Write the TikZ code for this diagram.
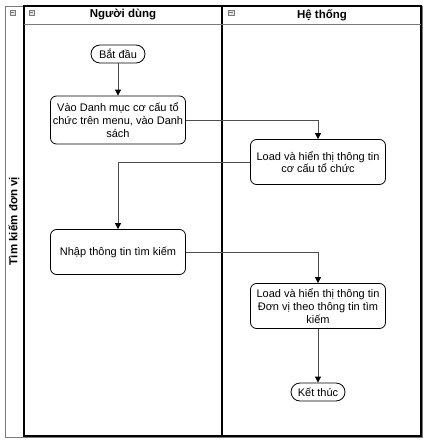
\documentclass[tikz,border=0pt]{standalone}
\usepackage{fontspec}
\setmainfont{Liberation Sans}
\usetikzlibrary{arrows.meta,positioning}
\definecolor{lanegray}{HTML}{7A7A7A}
\definecolor{linegray}{HTML}{4D4D4D}
\definecolor{iconfill}{HTML}{E4E4E4}
\tikzset{
  actbox/.style={draw=black, rounded corners=6pt, minimum width=135pt, minimum height=45pt,
                 inner sep=2pt, align=center, line width=0.8pt, font=\fontsize{11}{12.7}\selectfont},
  termbox/.style={draw=black, rounded corners=9pt, minimum width=54pt, minimum height=18pt,
                  inner sep=1pt, line width=0.8pt, font=\fontsize{11}{13}\selectfont},
  flow/.style={-{Triangle[length=6pt,width=6pt,color=black]}, line width=0.8pt, color=linegray},
  lanehead/.style={font=\bfseries\fontsize{11.5}{13}\selectfont},
  laneicon/.style={draw=lanegray, fill=iconfill, minimum size=5.5pt, inner sep=0pt,
                   path picture={\draw[lanegray, line width=0.6pt]
                     ([xshift=1.2pt]path picture bounding box.west) --
                     ([xshift=-1.2pt]path picture bounding box.east);}}}

\begin{document}
\begin{tikzpicture}[x=1pt, y=-1pt]
    \useasboundingbox (0,0) rectangle (427,444);
    % pool and lanes
    \draw[lanegray, line width=0.8pt] (5,6) rectangle (422,437);
    \draw[black, line width=1.3pt] (24,6) rectangle (421,436);
    \draw[black, line width=1.6pt] (222,6) -- (222,436);
    \draw[lanegray, line width=0.8pt] (24,24) -- (421,24);
    \node[laneicon] (poolicon) at (12.5,12.5) {};
    \node[laneicon] (usericon) at (31.5,12.5) {};
    \node[laneicon] (sysicon) at (231,12.5) {};
    \node[rotate=90, lanehead] (pooltitle) at (14,221) {Tìm kiếm đơn vị};
    \node[lanehead] (userlane) at (123,15) {Người dùng};
    \node[lanehead] (syslane) at (322,15) {Hệ thống};
    % activities
    \node[termbox] (start) at (118,54) {Bắt đầu};
    \node[actbox, minimum height=48pt] (browse) at (118,120)
      {Vào Danh mục cơ cấu tổ\\chức trên menu, vào Danh\\sách};
    \node[actbox] (loadorg) at (318,162) {Load và hiển thị thông tin\\cơ cấu tổ chức};
    \node[actbox] (search) at (118,252) {Nhập thông tin tìm kiếm};
    \node[actbox] (loadunit) at (318,306)
      {Load và hiển thị thông tin\\Đơn vị theo thông tin tìm\\kiếm};
    \node[termbox] (finish) at (318,392) {Kết thúc};
    % flows
    \draw[flow] (start) -- (browse);
    \draw[flow] (browse.east) -| (loadorg.north);
    \draw[flow] (loadorg.west) -| (search.north);
    \draw[flow] (search.east) -| (loadunit.north);
    \draw[flow] (loadunit) -- (finish);
\end{tikzpicture}
\end{document}
